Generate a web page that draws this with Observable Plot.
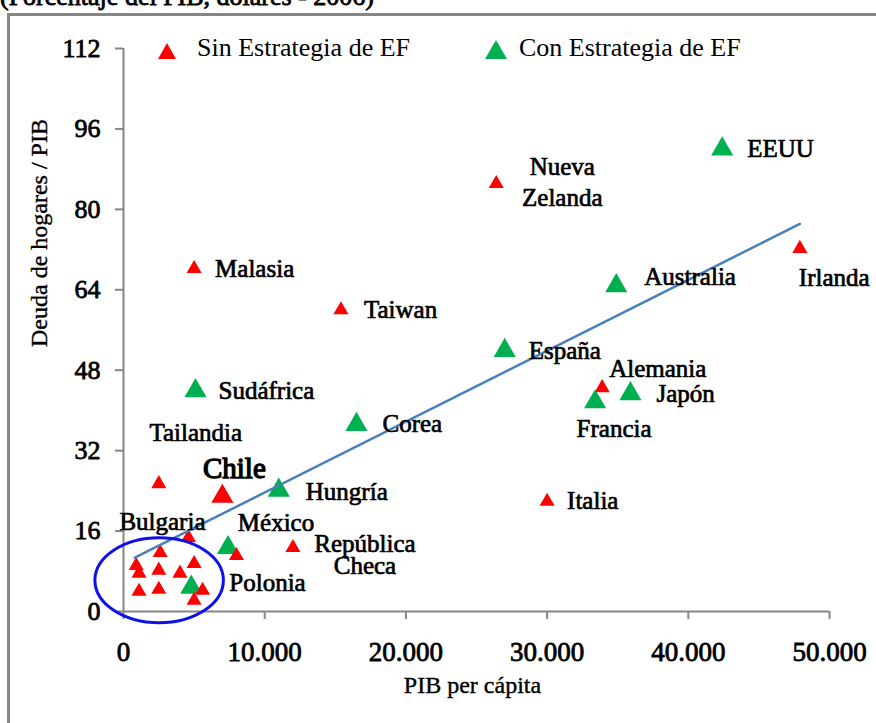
<!DOCTYPE html>
<html><head><meta charset="utf-8">
<script src="https://cdn.jsdelivr.net/npm/d3@7"></script>
<script src="https://cdn.jsdelivr.net/npm/@observablehq/plot@0.6"></script>
<style>
html,body{margin:0;padding:0;background:#fff;overflow:hidden;}
#wrap{position:relative;width:876px;height:723px;overflow:hidden;font-family:"Liberation Serif",serif;}
#frame{position:absolute;left:7px;top:13px;width:1000px;height:1000px;border-left:3px solid #868686;border-top:3px solid #868686;}
#title{position:absolute;left:0;top:-16px;font-size:26px;line-height:1;white-space:nowrap;-webkit-text-stroke:0.8px #000;}
#chart{position:absolute;left:0;top:0;}
.leg{position:absolute;font-size:26px;line-height:1;white-space:nowrap;color:#000;}
.sw{position:absolute;}
</style></head><body>
<div id="wrap">
  <div id="frame"></div>
  <div id="title">(Porcentaje del PIB, dólares - 2006)</div>
  <div id="chart"></div>
  <div id="legend"></div>
</div>
<script>
// ---- data ----
const countries = ["EEUU","Nueva Zelanda","Irlanda","Australia","Malasia","Taiwan","España","Alemania","Japón","Francia","Sudáfrica","Corea","Tailandia","Chile","Hungría","Italia","Bulgaria","México","República Checa","Polonia"];
const gdpPerCapita = [42400,26400,47900,34900,5000,15400,27000,33900,35900,33400,5100,16500,2500,7000,11000,30000,4600,7400,12000,4800];
const debtToGdp = [92.0,85.1,72.2,64.8,68.2,60.0,51.9,44.5,43.3,41.7,43.9,37.2,25.4,22.9,24.1,21.9,14.7,12.7,12.7,4.8];
const strategy = ["Con","Sin","Sin","Con","Sin","Sin","Con","Sin","Con","Con","Con","Con","Sin","Sin","Con","Sin","Sin","Con","Sin","Con"];
// unlabeled economies (all without strategy)
const otherGdp = [8000,2600,900,1100,2500,4000,5000,1100,2500,5600,5000];
const otherDebt = [11.1,11.7,9.1,7.6,8.2,7.6,9.5,4.0,4.4,4.2,2.2];
// trend line end points
const trendGdp = [800,47900];
const trendDebt = [10.7,77.1];
// highlighted group (ellipse): center and radii in data units
const ellipseCenter = [2560,6.1];
const ellipseRadii = [4550,8.45];
const xTicks = [0,10000,20000,30000,40000,50000];
const yTicks = [0,16,32,48,64,80,96,112];
const legendLabels = ["Sin Estrategia de EF","Con Estrategia de EF"];
const xTitle = "PIB per cápita";
const yTitle = "Deuda de hogares / PIB";

// ---- label layout (pixel offsets) ----
const labelLayout = [
  {c:"EEUU", t:"EEUU", a:"start", dx:25, dy:0},
  {c:"Nueva Zelanda", t:"Nueva", a:"middle", dx:66, dy:-17},
  {c:"Nueva Zelanda", t:"Zelanda", a:"middle", dx:66, dy:14},
  {c:"Irlanda", t:"Irlanda", a:"start", dx:-1, dy:29},
  {c:"Australia", t:"Australia", a:"start", dx:28, dy:-9},
  {c:"Malasia", t:"Malasia", a:"start", dx:21, dy:0},
  {c:"Taiwan", t:"Taiwan", a:"start", dx:23, dy:0},
  {c:"España", t:"España", a:"start", dx:24, dy:0},
  {c:"Alemania", t:"Alemania", a:"start", dx:7, dy:-19},
  {c:"Japón", t:"Japón", a:"start", dx:26, dy:0},
  {c:"Francia", t:"Francia", a:"middle", dx:19, dy:27},
  {c:"Sudáfrica", t:"Sudáfrica", a:"start", dx:23, dy:0},
  {c:"Corea", t:"Corea", a:"start", dx:26, dy:-1},
  {c:"Tailandia", t:"Tailandia", a:"middle", dx:37, dy:-51},
  {c:"Chile", t:"Chile", a:"middle", dx:12, dy:-28, big:true},
  {c:"Hungría", t:"Hungría", a:"start", dx:27, dy:2},
  {c:"Italia", t:"Italia", a:"start", dx:20, dy:0},
  {c:"Bulgaria", t:"Bulgaria", a:"middle", dx:-26, dy:-16},
  {c:"México", t:"México", a:"middle", dx:48, dy:-25},
  {c:"República Checa", t:"República", a:"middle", dx:72, dy:-4},
  {c:"República Checa", t:"Checa", a:"middle", dx:72, dy:18},
  {c:"Polonia", t:"Polonia", a:"start", dx:38, dy:-4}
];

const FONT = "Liberation Serif";
const RED = "#FF0000", GREEN = "#00B050", AXIS = "#868686";
const pts = countries.map((c,i)=>({c, x:gdpPerCapita[i], y:debtToGdp[i], s:strategy[i]}));
const others = otherGdp.map((x,i)=>({x, y:otherDebt[i]}));
const trend = trendGdp.map((x,i)=>({x, y:trendDebt[i]}));
const loc = d3.formatLocale({decimal:",", thousands:".", grouping:[3], currency:["",""]});
const fmt = loc.format(",");
const rSmall = 5.6, rBig = 8.2;
// heavy text: regular serif face thickened with a stroke
const heavy = (w) => ({fontFamily: FONT, fill: "#000", stroke: "#000", strokeWidth: w, paintOrder: "fill"});

const labelMarks = labelLayout.map(l => {
  const p = pts.find(d => d.c === l.c);
  return Plot.text([{x:p.x, y:p.y, t:l.t}], {
    x:"x", y:"y", text:"t", textAnchor:l.a, dx:l.dx, dy:l.dy,
    fontSize: l.big ? 29 : 25, ...heavy(l.big ? 1.3 : 0.7)
  });
});

const chart = Plot.plot({
  width: 876, height: 723,
  marginLeft: 123, marginRight: 47, marginTop: 48, marginBottom: 112,
  x: {domain: [0, 50000]},
  y: {domain: [0, 112]},
  r: {type: "identity"},
  style: {fontFamily: FONT, background: "transparent", overflow: "visible"},
  marks: [
    Plot.axisY({ticks: yTicks, tickSize: 8, label: null, stroke: AXIS, strokeWidth: 2, fill: "none"}),
    Plot.axisX({ticks: xTicks, tickSize: 8, label: null, stroke: AXIS, strokeWidth: 2, fill: "none"}),
    Plot.ruleX([0], {stroke: AXIS, strokeWidth: 2}),
    Plot.ruleY([0], {stroke: AXIS, strokeWidth: 2}),
    Plot.text(yTicks, {y: d => d, text: d => String(d), frameAnchor: "left", textAnchor: "end", dx: -23, fontSize: 26, ...heavy(0.8)}),
    Plot.text(xTicks, {x: d => d, text: fmt, frameAnchor: "bottom", lineAnchor: "top", dy: 30, fontSize: 27, ...heavy(0.8)}),
    Plot.text([xTitle], {frameAnchor: "bottom", dx: -4, dy: 81, fontSize: 24, ...heavy(0.4)}),
    Plot.text([yTitle], {frameAnchor: "left", rotate: -90, dx: -84, dy: 17, fontSize: 24, ...heavy(0.4)}),
    Plot.dot(pts.filter(d => d.s === "Sin"), {x: "x", y: "y", symbol: "triangle", fill: RED, stroke: null, r: d => d.c === "Chile" ? rBig : rSmall}),
    Plot.dot(pts.filter(d => d.s === "Con"), {x: "x", y: "y", symbol: "triangle", fill: GREEN, stroke: null, r: rBig}),
    Plot.dot(others, {x: "x", y: "y", symbol: "triangle", fill: RED, stroke: null, r: rSmall}),
    Plot.line(trend, {x: "x", y: "y", stroke: "#4A7EBB", strokeWidth: 2.5}),
    ...labelMarks,
    (index, scales) => {
      const cx = scales.x(ellipseCenter[0]), cy = scales.y(ellipseCenter[1]);
      const rx = Math.abs(scales.x(ellipseCenter[0] + ellipseRadii[0]) - cx);
      const ry = Math.abs(scales.y(ellipseCenter[1] + ellipseRadii[1]) - cy);
      return d3.create("svg:ellipse").attr("cx", cx).attr("cy", cy).attr("rx", rx).attr("ry", ry)
        .attr("fill", "none").attr("stroke", "#1010E8").attr("stroke-width", 3).node();
    }
  ]
});
document.getElementById("chart").appendChild(chart);

// legend
const legend = document.getElementById("legend");
const legendSpec = [
  {label: legendLabels[0], color: RED, w: 18, h: 16, left: 158, top: 43, textLeft: 197},
  {label: legendLabels[1], color: GREEN, w: 22, h: 19, left: 485, top: 40, textLeft: 519}
];
legendSpec.forEach(s => {
  const sw = document.createElementNS("http://www.w3.org/2000/svg", "svg");
  sw.setAttribute("class", "sw");
  sw.setAttribute("width", s.w); sw.setAttribute("height", s.h);
  sw.style.left = s.left + "px"; sw.style.top = s.top + "px";
  const poly = document.createElementNS("http://www.w3.org/2000/svg", "polygon");
  poly.setAttribute("points", `${s.w/2},0 ${s.w},${s.h} 0,${s.h}`);
  poly.setAttribute("fill", s.color);
  sw.appendChild(poly);
  legend.appendChild(sw);
  const t = document.createElement("div");
  t.className = "leg"; t.textContent = s.label;
  t.style.left = s.textLeft + "px"; t.style.top = "35px";
  legend.appendChild(t);
});
</script>
</body></html>
